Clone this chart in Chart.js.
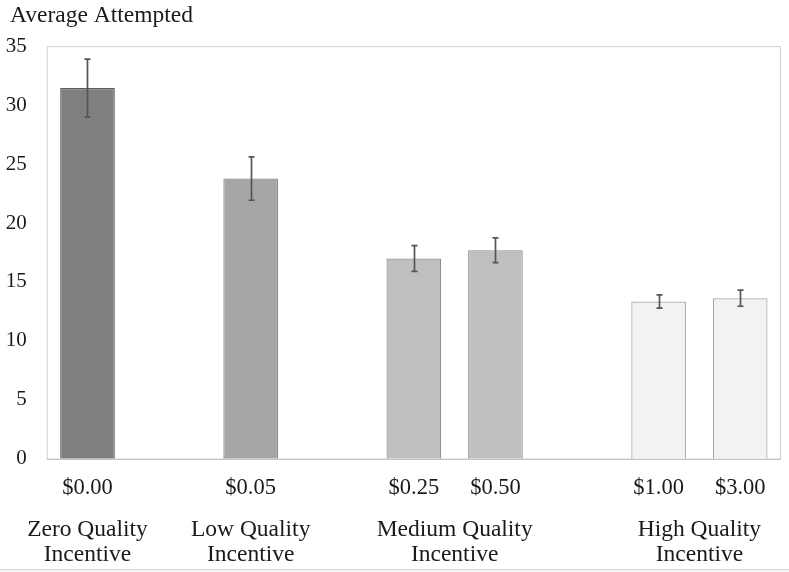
<!DOCTYPE html>
<html>
<head>
<meta charset="utf-8">
<script src="https://cdn.jsdelivr.net/npm/chart.js@4.4.1/dist/chart.umd.min.js"></script>
<style>
  html, body { margin: 0; padding: 0; background: #ffffff; }
  #wrap { width: 789px; height: 572px; position: relative; overflow: hidden; }
  #edge { position: absolute; left: 0; top: 569px; width: 789px; height: 3px; background: #f3f3f3; border-top: 1px solid #dadada; box-sizing: border-box; }
</style>
</head>
<body>
<div id="wrap"><canvas id="chart" width="789" height="572"></canvas><div id="edge"></div></div>
<script>
// Incentive levels; empty strings leave a spacer slot between incentive groups
const priceLabels = ['$0.00', '', '$0.05', '', '$0.25', '$0.50', '', '$1.00', '$3.00'];
// Average number of tasks attempted per incentive level
const attempted = [31.45, null, 23.77, null, 16.99, 17.69, null, 13.34, 13.62];
// Error bar half-widths (± around the mean)
const errorMargins = [2.46, null, 1.84, null, 1.10, 1.05, null, 0.56, 0.68];
// Quality-incentive groups and the price levels they contain
const groupNames = [['Zero Quality', 'Incentive'], ['Low Quality', 'Incentive'], ['Medium Quality', 'Incentive'], ['High Quality', 'Incentive']];
const groupMembers = [['$0.00'], ['$0.05'], ['$0.25', '$0.50'], ['$1.00', '$3.00']];
const yTicks = [0, 5, 10, 15, 20, 25, 30, 35];

const groupFill = ['#7f7f7f', '#a6a6a6', '#bfbfbf', '#f2f2f2'];
const groupEdge = ['#5c5c5c', '#8a8a8a', '#8f8f8f', '#a6a6a6'];

function groupOf(label) {
  return groupMembers.findIndex(m => m.includes(label));
}
const fills = priceLabels.map(l => l ? groupFill[groupOf(l)] : 'transparent');
const edges = priceLabels.map(l => l ? groupEdge[groupOf(l)] : 'transparent');
// Each group label sits under the middle of its member bars
const groupCenters = groupMembers.map(m => {
  const idx = m.map(l => priceLabels.indexOf(l));
  return idx.reduce((a, b) => a + b, 0) / idx.length;
});

const serif = '"Liberation Serif", "Times New Roman", serif';
const ink = '#1a1a1a';

const priceFont = { family: serif, size: 22.5, lineHeight: 1.2 };
const groupFont = { family: serif, size: 23.5, lineHeight: 1.09 };
const pricePad = 16;
const groupPad = 15;

// Light frame around the plotting area
const frame = {
  id: 'frame',
  afterLayout(chart) {
    // nudge the heading slightly inward from the canvas edge
    if (chart.titleBlock) chart.titleBlock.left += 6;
  },
  beforeDatasetsDraw(chart) {
    const { ctx, chartArea: a } = chart;
    ctx.save();
    ctx.strokeStyle = '#cfcfcf';
    ctx.lineWidth = 1;
    ctx.strokeRect(a.left + 0.5, a.top + 0.5, a.right - a.left - 1, a.bottom - a.top);
    ctx.strokeStyle = '#bdbdbd';
    ctx.beginPath();
    ctx.moveTo(a.left, a.bottom + 0.5);
    ctx.lineTo(a.right, a.bottom + 0.5);
    ctx.stroke();
    ctx.restore();
  }
};

// Vertical error bars with caps, positioned through the chart scales
const errorBars = {
  id: 'errorBars',
  afterDatasetsDraw(chart) {
    const { ctx } = chart;
    const meta = chart.getDatasetMeta(0);
    const y = chart.scales.y;
    ctx.save();
    ctx.strokeStyle = '#555555';
    ctx.lineWidth = 1.7;
    meta.data.forEach((bar, i) => {
      const v = attempted[i], e = errorMargins[i];
      if (v == null || e == null) return;
      const x = Math.round(bar.x) + 0.5;
      const yHi = y.getPixelForValue(v + e);
      const yLo = y.getPixelForValue(v - e);
      ctx.beginPath();
      ctx.moveTo(x, yHi); ctx.lineTo(x, yLo);
      ctx.moveTo(x - 3, yHi); ctx.lineTo(x + 3, yHi);
      ctx.moveTo(x - 3, yLo); ctx.lineTo(x + 3, yLo);
      ctx.stroke();
    });
    ctx.restore();
  }
};

new Chart(document.getElementById('chart'), {
  type: 'bar',
  data: {
    labels: priceLabels,
    datasets: [{
      data: attempted,
      backgroundColor: fills,
      borderColor: edges,
      borderWidth: 1.2,
      barPercentage: 0.67,
      categoryPercentage: 1.0
    }]
  },
  options: {
    responsive: false,
    animation: false,
    layout: { padding: { left: 4, right: 8, top: 2, bottom: 4 } },
    plugins: {
      legend: { display: false },
      tooltip: { enabled: false },
      title: {
        display: true,
        text: 'Average Attempted',
        align: 'start',
        color: ink,
        font: { family: serif, size: 23.5, weight: 'normal', lineHeight: 1.2 },
        padding: { top: 0, bottom: 16 }
      }
    },
    scales: {
      x: {
        type: 'category',
        position: 'bottom',
        grid: { display: false, drawTicks: false },
        border: { display: false },
        afterFit(scale) {
          scale.height = pricePad + priceFont.size * priceFont.lineHeight;
        },
        ticks: {
          color: ink,
          font: priceFont,
          padding: pricePad,
          maxRotation: 0,
          autoSkip: false
        }
      },
      groups: {
        type: 'linear',
        position: 'bottom',
        offset: false,
        min: -0.5,
        max: priceLabels.length - 0.5,
        grid: { display: false, drawTicks: false },
        border: { display: false },
        afterBuildTicks(scale) {
          scale.ticks = groupCenters.map(v => ({ value: v }));
        },
        afterFit(scale) {
          scale.height = groupPad + 2 * groupFont.size * groupFont.lineHeight;
        },
        ticks: {
          color: ink,
          font: groupFont,
          padding: groupPad,
          maxRotation: 0,
          autoSkip: false,
          callback(value) {
            const g = groupCenters.indexOf(value);
            return g >= 0 ? groupNames[g] : '';
          }
        }
      },
      y: {
        min: 0,
        max: 35,
        grid: { display: false, drawTicks: false },
        border: { display: false },
        afterBuildTicks(scale) {
          scale.ticks = yTicks.map(v => ({ value: v }));
        },
        afterFit(scale) {
          scale.width = 42.7;
        },
        ticks: {
          color: ink,
          font: { family: serif, size: 21 },
          padding: 20
        }
      }
    }
  },
  plugins: [frame, errorBars]
});
</script>
</body>
</html>
